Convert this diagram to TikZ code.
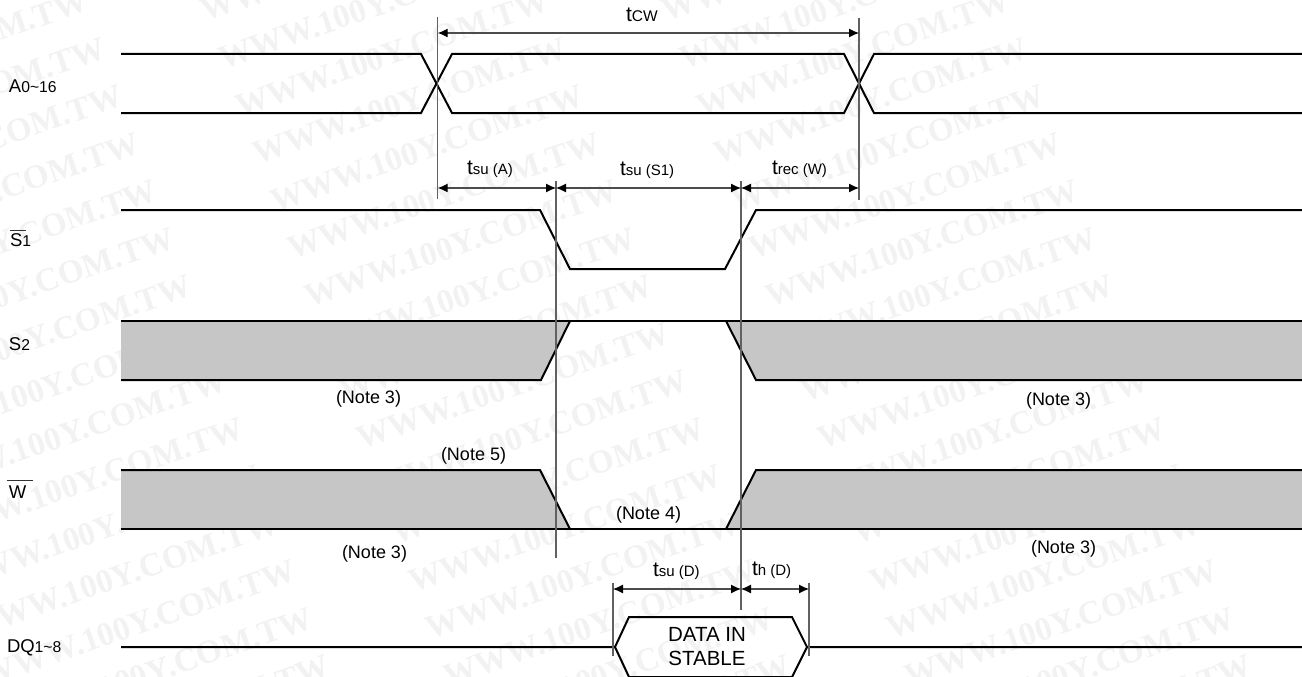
\documentclass[tikz,border=0pt]{standalone}
\usepackage{fontspec}
\setmainfont{Liberation Sans}
\newfontfamily\markfont{Liberation Serif}
\usetikzlibrary{arrows.meta}
\definecolor{band}{HTML}{C6C6C6}
\definecolor{markgray}{HTML}{F2F2F2}
\newcommand{\sz}[1]{\fontsize{#1}{#1}\selectfont}
\newcommand{\siglab}[2]{{\sz{18.5}#1}{\sz{15.7}#2}}
\newcommand{\tlab}[1]{{\sz{21}t}{\sz{15}#1}}
\tikzset{
  every node/.style = {inner sep=0pt, outer sep=0pt, anchor=base west, font=\sz{18}},
  wave/.style = {draw=black, line width=2pt, line join=miter},
  guide/.style = {draw=black!62, line width=1.2pt},
  namebar/.style = {draw=black!80, line width=1pt},
  dim/.style = {draw=black!70, line width=1.1pt, {Latex[length=10pt,width=9pt,black]}-{Latex[length=10pt,width=9pt,black]}},
  stamp/.style = {anchor=base west, text=markgray, rotate=19, font=\markfont\bfseries\sz{33.2}}
}
\begin{document}
\begin{tikzpicture}[x=1pt, y=-1pt]
  \useasboundingbox (0,0) rectangle (1302,677);
  \begin{scope}
    \clip (0,0) rectangle (1302,677);
    \foreach \i in {-1,0,1} {
      \foreach \j in {-14,...,2} {
        \node[stamp] (mark\i\j) at ({448+461*\i+17.3*\j}, {687+47.5*\j}) {WWW.100Y.COM.TW};
      }
    }
  \end{scope}
  % gray bands
  \fill[band] (121,321) -- (570,321) -- (541,380) -- (121,380) -- cycle;
  \fill[band] (726,321) -- (1302,321) -- (1302,380) -- (756,380) -- cycle;
  \fill[band] (121,470) -- (540,470) -- (570,529) -- (121,529) -- cycle;
  \fill[band] (726,529) -- (756,470) -- (1302,470) -- (1302,529) -- cycle;
  % signals
  \draw[wave] (121,54) -- (421,54) -- (452,113) -- (844,113) -- (874,54) -- (1302,54);
  \draw[wave] (121,113) -- (421,113) -- (452,54) -- (844,54) -- (874,113) -- (1302,113);
  \draw[wave] (121,210) -- (540,210) -- (570,269) -- (725,269) -- (756,210) -- (1302,210);
  \draw[wave] (121,321) -- (1302,321);
  \draw[wave] (121,380) -- (541,380) -- (570,321);
  \draw[wave] (726,321) -- (756,380) -- (1302,380);
  \draw[wave] (121,470) -- (540,470) -- (570,529);
  \draw[wave] (726,529) -- (756,470) -- (1302,470);
  \draw[wave] (121,529) -- (1302,529);
  \draw[wave] (121,647) -- (615,647) -- (629,617) -- (792,617) -- (807,647) -- (1302,647);
  \draw[wave] (615,647) -- (629,677) -- (792,677) -- (807,647);
  % timing marks
  \coordinate (cwl) at (437.7,33);
  \coordinate (cwr) at (859,33);
  \coordinate (sua) at (437.7,188);
  \coordinate (sub) at (556,188);
  \coordinate (suc) at (741,188);
  \coordinate (sud) at (859,188);
  \coordinate (dl) at (613,589);
  \coordinate (dm) at (741,589);
  \coordinate (dr) at (809,589);
  \draw[guide] (437.7,17) -- (437.7,199);
  \draw[guide] (859,18) -- (859,200);
  \draw[guide] (556,181) -- (556,558);
  \draw[guide] (741,181) -- (741,610);
  \draw[guide] (613,583) -- (613,656);
  \draw[guide] (809,583) -- (809,656);
  \draw[dim] (cwl) -- (cwr);
  \draw[dim] (sua) -- (sub);
  \draw[dim] (sub) -- (suc);
  \draw[dim] (suc) -- (sud);
  \draw[dim] (dl) -- (dm);
  \draw[dim] (dm) -- (dr);
  % signal names
  \node (sigA) at (9,92.7) {\siglab{A}{0\textasciitilde16}};
  \node (sigS) at (10,246) {\siglab{S}{1}};
  \draw[namebar] (10,230) -- (26,230);
  \node (sigT) at (9,350) {\siglab{S}{2}};
  \node (sigW) at (9,498) {\siglab{W}{}};
  \draw[namebar] (7,480) -- (33,480);
  \node (sigD) at (7,652.7) {\siglab{DQ}{1\textasciitilde8}};
  % timing names
  \node (tcw) at (626,22) {{\sz{21}t}{\sz{15.5}CW}};
  \node (tsua) at (467,174) {\tlab{su (A)}};
  \node (tsus) at (620,175) {\tlab{su (S1)}};
  \node (trec) at (772,174) {\tlab{rec (W)}};
  \node (tsud) at (653,576) {\tlab{su (D)}};
  \node (thd) at (752,575) {\tlab{h (D)}};
  % notes
  \node (noteA) at (336,403) {(Note 3)};
  \node (noteB) at (1026,405) {(Note 3)};
  \node (noteC) at (441,460) {(Note 5)};
  \node (noteD) at (616,519) {(Note 4)};
  \node (noteE) at (342,558) {(Note 3)};
  \node (noteF) at (1031,553) {(Note 3)};
  \node[font=\sz{20.5}, anchor=base] (dataa) at (707,641) {DATA IN};
  \node[font=\sz{20.5}, anchor=base] (datab) at (707,665) {STABLE};
\end{tikzpicture}
\end{document}
